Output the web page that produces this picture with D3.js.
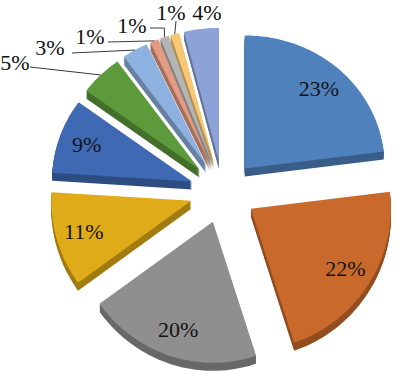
<!DOCTYPE html>
<html>
<head>
<meta charset="utf-8">
<script src="https://cdn.jsdelivr.net/npm/d3@7"></script>
<style>
  body { margin: 0; background: #fff; }
  svg text { font-family: "Liberation Serif", "Times New Roman", Times, serif; }
</style>
</head>
<body>
<script>
// valori delle fette (percentuali)
const values = [23, 22, 20, 11, 9, 5, 3, 1, 1, 1, 4];
const labels = ["23%", "22%", "20%", "11%", "9%", "5%", "3%", "1%", "1%", "1%", "4%"];
const colors = ["#4F81BD", "#C96A2C", "#8F8F8F", "#DFAB18", "#3F6AB3", "#5C9A3C",
                "#8DB2DF", "#E39B81", "#B4B4B4", "#F7C774", "#8DA3D8"];

const width = 397, height = 372;
const cx = 223, cy = 192;
const rx = 140;
const depth = 8;
const explode = 33;
// raggio verticale: piu' piccolo dietro, piu' grande davanti (prospettiva)
const ry = a => 137 - 4 * Math.cos(a);

// etichette esterne (layout)
const outerLabels = [
  { i: 5, x: 15, y: 62, lx: 30, ly: 67 },
  { i: 6, x: 50, y: 47, lx: 72, ly: 53 },
  { i: 7, x: 90, y: 36, lx: 108, ly: 42 },
  { i: 8, x: 132, y: 25, lx: 150, ly: 28, elbow: true },
  { i: 9, x: 171, y: 12, lx: 176, ly: 21 },
  { i: 10, x: 207, y: 12 }
];

const svg = d3.select("body")
  .append("svg")
  .attr("width", width)
  .attr("height", height);

const arcs = d3.pie().sort(null).value(d => d)(values);

function pt(a, r, ox, oy) {
  return [cx + ox + r * rx * Math.sin(a), cy + oy - r * ry(a) * Math.cos(a)];
}

arcs.forEach((d, i) => {
  d.i = i;
  d.mid = (d.startAngle + d.endAngle) / 2;
  d.ox = explode * Math.sin(d.mid);
  d.oy = -explode * 0.95 * Math.cos(d.mid);
  const n = Math.max(4, Math.ceil((d.endAngle - d.startAngle) / 0.02));
  const pts = [pt(0, 0, d.ox, d.oy)];
  for (let k = 0; k <= n; k++) {
    pts.push(pt(d.startAngle + (d.endAngle - d.startAngle) * k / n, 1, d.ox, d.oy));
  }
  d.pts = pts;
});

const line = d3.line().curve(d3.curveLinearClosed);

// disegno dal fondo verso il davanti
const order = arcs.slice().sort((a, b) => Math.cos(b.mid) - Math.cos(a.mid));

order.forEach(d => {
  const g = svg.append("g");
  const side = d3.color(colors[d.i]).darker(0.9);
  for (let s = depth; s >= 1; s--) {
    g.append("path")
      .attr("d", line(d.pts.map(p => [p[0], p[1] + s])))
      .attr("fill", side);
  }
  g.append("path")
    .attr("d", line(d.pts))
    .attr("fill", colors[d.i]);
});

// etichette interne
arcs.filter(d => d.i < 5).forEach(d => {
  const p = pt(d.mid, 0.8, d.ox, d.oy);
  svg.append("text")
    .attr("x", p[0])
    .attr("y", p[1])
    .attr("dy", "0.35em")
    .attr("text-anchor", "middle")
    .style("font-family", "Liberation Serif")
    .style("font-size", "22px")
    .attr("fill", "#141414")
    .text(labels[d.i]);
});

// etichette esterne con linee guida
outerLabels.forEach(o => {
  const d = arcs[o.i];
  if (o.lx !== undefined) {
    const a = pt(d.mid, 1.0, d.ox, d.oy);
    const pts = o.elbow ? [[o.lx, o.ly], [a[0], o.ly], a] : [[o.lx, o.ly], a];
    svg.append("path")
      .attr("d", d3.line()(pts))
      .attr("fill", "none")
      .attr("stroke", "#3a3a3a")
      .attr("stroke-width", 1);
  }
  svg.append("text")
    .attr("x", o.x)
    .attr("y", o.y)
    .attr("dy", "0.35em")
    .attr("text-anchor", "middle")
    .style("font-family", "Liberation Serif")
    .style("font-size", "22px")
    .attr("fill", "#111")
    .text(labels[o.i]);
});
</script>
</body>
</html>
